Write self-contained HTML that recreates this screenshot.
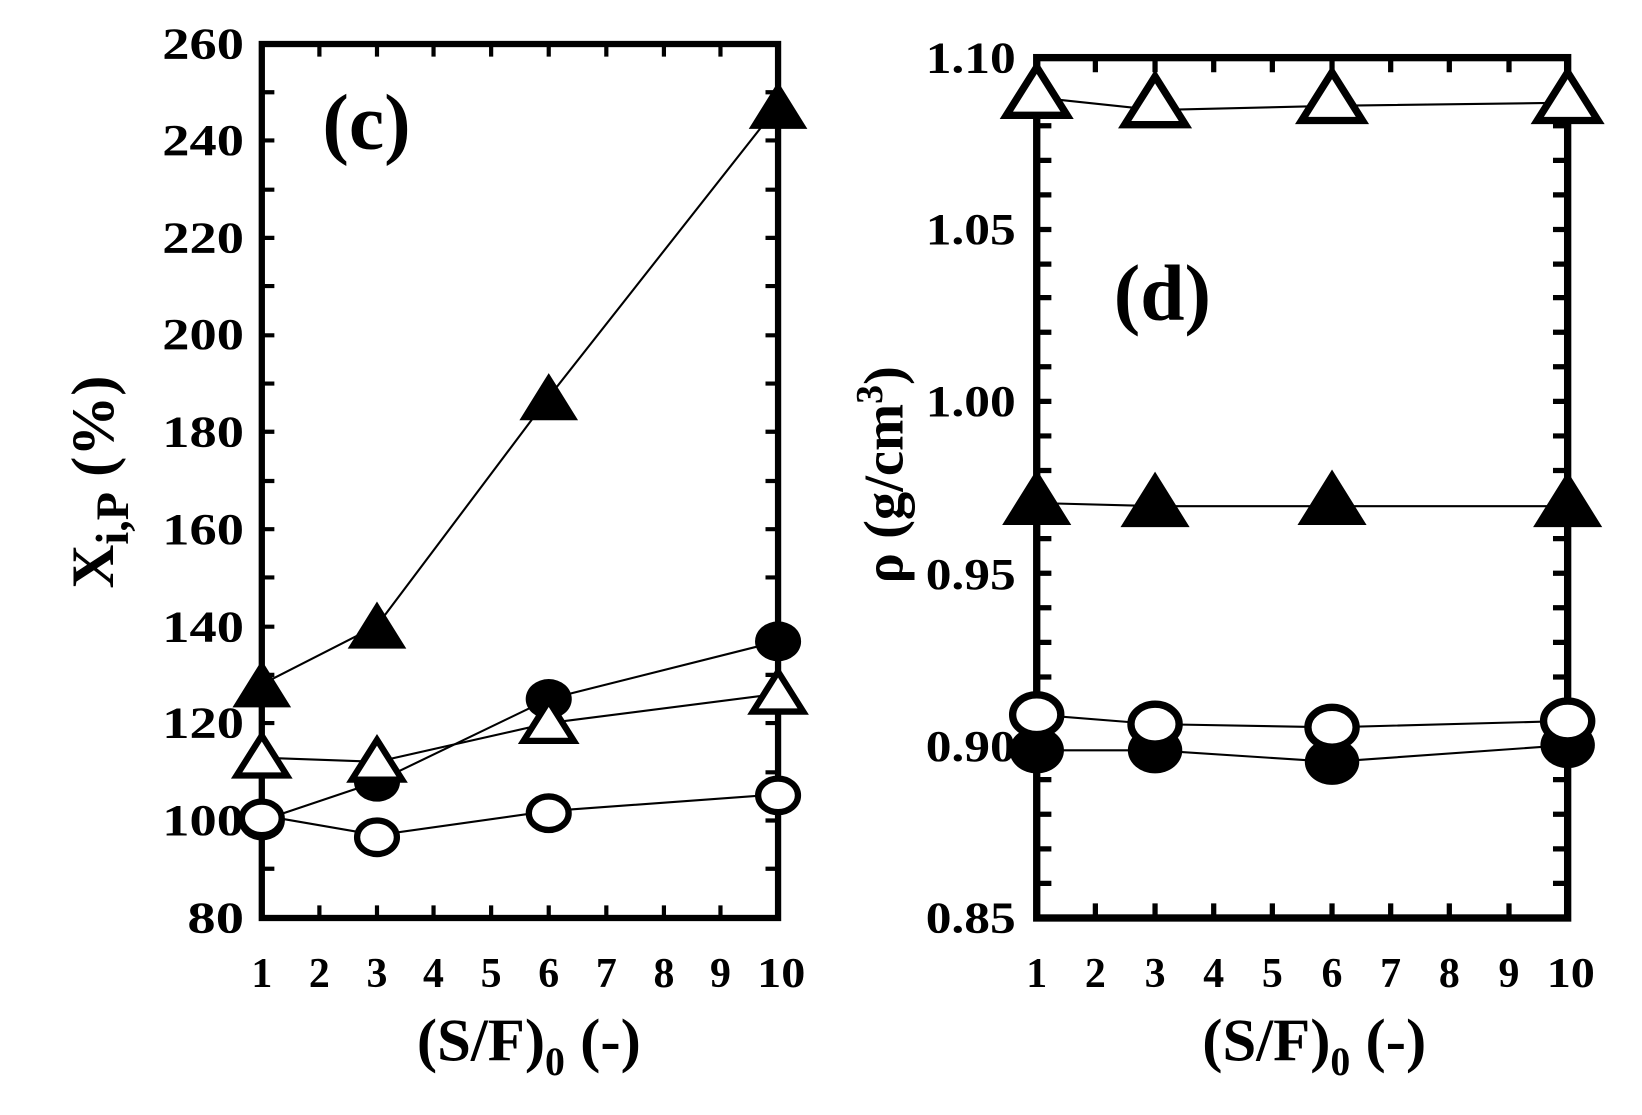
<!DOCTYPE html>
<html><head><style>html,body{margin:0;padding:0;background:#fff}svg{display:block}</style></head>
<body>
<svg width="1642" height="1115" viewBox="0 0 1568 1064" preserveAspectRatio="none" xmlns="http://www.w3.org/2000/svg" font-family="Liberation Serif, serif" font-weight="bold">
<rect width="1568" height="1064" fill="#fff"/>
<!-- LEFT PLOT -->
<g stroke="#000" stroke-width="4" fill="none">
<path d="M250 829h12M250 783h12M250 737h12M250 690h12M250 644h12M250 598h12M250 551h12M250 505h12M250 459h12M250 412h12M250 366h12M250 320h12M250 273h12M250 227h12M250 181h12M250 134h12M250 88h12
M743 829h-12M743 783h-12M743 737h-12M743 690h-12M743 644h-12M743 598h-12M743 551h-12M743 505h-12M743 459h-12M743 412h-12M743 366h-12M743 320h-12M743 273h-12M743 227h-12M743 181h-12M743 134h-12M743 88h-12
M305 876v-12M360 876v-12M414 876v-12M469 876v-12M524 876v-12M579 876v-12M634 876v-12M688 876v-12
M305 42v12M360 42v12M414 42v12M469 42v12M524 42v12M579 42v12M634 42v12M688 42v12"/>
</g>
<rect x="250" y="42" width="493" height="834" fill="none" stroke="#000" stroke-width="6"/>
<g font-size="42" text-anchor="end" lengthAdjust="spacingAndGlyphs">
<text x="233" y="890" textLength="54" lengthAdjust="spacingAndGlyphs">80</text>
<text x="233" y="797" textLength="78" lengthAdjust="spacingAndGlyphs">100</text>
<text x="233" y="704" textLength="78" lengthAdjust="spacingAndGlyphs">120</text>
<text x="233" y="612" textLength="78" lengthAdjust="spacingAndGlyphs">140</text>
<text x="233" y="519" textLength="78" lengthAdjust="spacingAndGlyphs">160</text>
<text x="233" y="426" textLength="78" lengthAdjust="spacingAndGlyphs">180</text>
<text x="233" y="333" textLength="78" lengthAdjust="spacingAndGlyphs">200</text>
<text x="233" y="241" textLength="78" lengthAdjust="spacingAndGlyphs">220</text>
<text x="233" y="148" textLength="78" lengthAdjust="spacingAndGlyphs">240</text>
<text x="233" y="56" textLength="78" lengthAdjust="spacingAndGlyphs">260</text>
</g>
<g font-size="40" text-anchor="middle">
<text x="250" y="942">1</text><text x="305" y="942">2</text><text x="360" y="942">3</text><text x="414" y="942">4</text><text x="469" y="942">5</text><text x="524" y="942">6</text><text x="579" y="942">7</text><text x="634" y="942">8</text><text x="688" y="942">9</text><text x="746" y="942" textLength="46" lengthAdjust="spacingAndGlyphs">10</text>
</g>
<text x="505" y="1012" font-size="58" text-anchor="middle">(S/F)<tspan font-size="38" dy="14">0</tspan><tspan dy="-14"> (-)</tspan></text>
<text x="350" y="142" font-size="76" text-anchor="middle">(c)</text>
<text transform="translate(108,460) rotate(-90)" font-size="58" text-anchor="middle">X<tspan font-size="44" dy="14">i,P</tspan><tspan dy="-14"> (%)</tspan></text>
<!-- series -->
<g stroke="#000" stroke-width="2" fill="none">
<polyline points="250,653 360,597 524,379 743,101"/>
<polyline points="250,783 360,746 524,667 743,612"/>
<polyline points="250,723 360,727 524,690 743,662"/>
<polyline points="250,778 360,797 524,774 743,758"/>
</g>
<g fill="#000">
<path d="M250,630 l28,45 h-56z M360,574 l28,45 h-56z M524,356 l28,45 h-56z M743,78 l28,45 h-56z"/>
<ellipse cx="250" cy="783" rx="22" ry="19"/><ellipse cx="360" cy="746" rx="22" ry="19"/><ellipse cx="524" cy="667" rx="22" ry="19"/><ellipse cx="743" cy="612" rx="22" ry="19"/>
</g>
<g fill="#fff" stroke="#000" stroke-width="6">
<path d="M250,702 l24,38 h-48z M360,706 l24,38 h-48z M524,669 l24,38 h-48z M743,641 l24,38 h-48z"/>
<ellipse cx="250" cy="781" rx="19" ry="16"/><ellipse cx="360" cy="799" rx="19" ry="16"/><ellipse cx="524" cy="776" rx="19" ry="16"/><ellipse cx="743" cy="759" rx="19" ry="16"/>
</g>
<!-- RIGHT PLOT -->
<g stroke="#000" stroke-width="5" fill="none">
<path d="M990 843h14M990 810h14M990 777h14M990 744h14M990 711h14M990 678h14M990 646h14M990 613h14M990 580h14M990 547h14M990 514h14M990 481h14M990 449h14M990 416h14M990 383h14M990 350h14M990 317h14M990 284h14M990 252h14M990 219h14M990 186h14M990 153h14M990 120h14M990 88h14
M1497 843h-14M1497 810h-14M1497 777h-14M1497 744h-14M1497 711h-14M1497 678h-14M1497 646h-14M1497 613h-14M1497 580h-14M1497 547h-14M1497 514h-14M1497 481h-14M1497 449h-14M1497 416h-14M1497 383h-14M1497 350h-14M1497 317h-14M1497 284h-14M1497 252h-14M1497 219h-14M1497 186h-14M1497 153h-14M1497 120h-14M1497 88h-14
M1046 876v-14M1103 876v-14M1159 876v-14M1215 876v-14M1272 876v-14M1328 876v-14M1384 876v-14M1441 876v-14
M1046 55v14M1103 55v14M1159 55v14M1215 55v14M1272 55v14M1328 55v14M1384 55v14M1441 55v14"/>
</g>
<rect x="990" y="55" width="507" height="821" fill="none" stroke="#000" stroke-width="7"/>
<g font-size="42" text-anchor="end">
<text x="970" y="890" textLength="86" lengthAdjust="spacingAndGlyphs">0.85</text>
<text x="970" y="726" textLength="86" lengthAdjust="spacingAndGlyphs">0.90</text>
<text x="970" y="562" textLength="86" lengthAdjust="spacingAndGlyphs">0.95</text>
<text x="970" y="397" textLength="86" lengthAdjust="spacingAndGlyphs">1.00</text>
<text x="970" y="233" textLength="86" lengthAdjust="spacingAndGlyphs">1.05</text>
<text x="970" y="69" textLength="86" lengthAdjust="spacingAndGlyphs">1.10</text>
</g>
<g font-size="40" text-anchor="middle">
<text x="990" y="942">1</text><text x="1046" y="942">2</text><text x="1103" y="942">3</text><text x="1159" y="942">4</text><text x="1215" y="942">5</text><text x="1272" y="942">6</text><text x="1328" y="942">7</text><text x="1384" y="942">8</text><text x="1441" y="942">9</text><text x="1500" y="942" textLength="46" lengthAdjust="spacingAndGlyphs">10</text>
</g>
<text x="1255" y="1012" font-size="58" text-anchor="middle">(S/F)<tspan font-size="38" dy="14">0</tspan><tspan dy="-14"> (-)</tspan></text>
<text x="1110" y="305" font-size="76" text-anchor="middle">(d)</text>
<text transform="translate(862,453) rotate(-90)" font-size="54" text-anchor="middle">ρ (g/cm<tspan font-size="36" dy="-20">3</tspan><tspan dy="20">)</tspan></text>
<g stroke="#000" stroke-width="2" fill="none">
<polyline points="990,93 1103,105 1272,101 1497,98"/>
<polyline points="990,480 1103,483 1272,483 1497,483"/>
<polyline points="990,682 1103,691 1272,694 1497,688"/>
<polyline points="990,716 1103,716 1272,727 1497,711"/>
</g>
<g fill="#000">
<ellipse cx="990" cy="716" rx="26" ry="22"/><ellipse cx="1103" cy="716" rx="26" ry="22"/><ellipse cx="1272" cy="727" rx="26" ry="22"/><ellipse cx="1497" cy="711" rx="26" ry="22"/>
<path d="M990,448 l33,53 h-66z M1103,450 l33,53 h-66z M1272,448 l33,53 h-66z M1497,450 l33,53 h-66z"/>
</g>
<g fill="#fff" stroke="#000" stroke-width="7">
<ellipse cx="990" cy="682" rx="23" ry="19"/><ellipse cx="1103" cy="691" rx="23" ry="19"/><ellipse cx="1272" cy="694" rx="23" ry="19"/><ellipse cx="1497" cy="688" rx="23" ry="19"/>
<path d="M990,64 l29,46 h-58z M1103,73 l29,46 h-58z M1272,69 l29,46 h-58z M1497,69 l29,46 h-58z"/>
</g>
</svg>
</body></html>
